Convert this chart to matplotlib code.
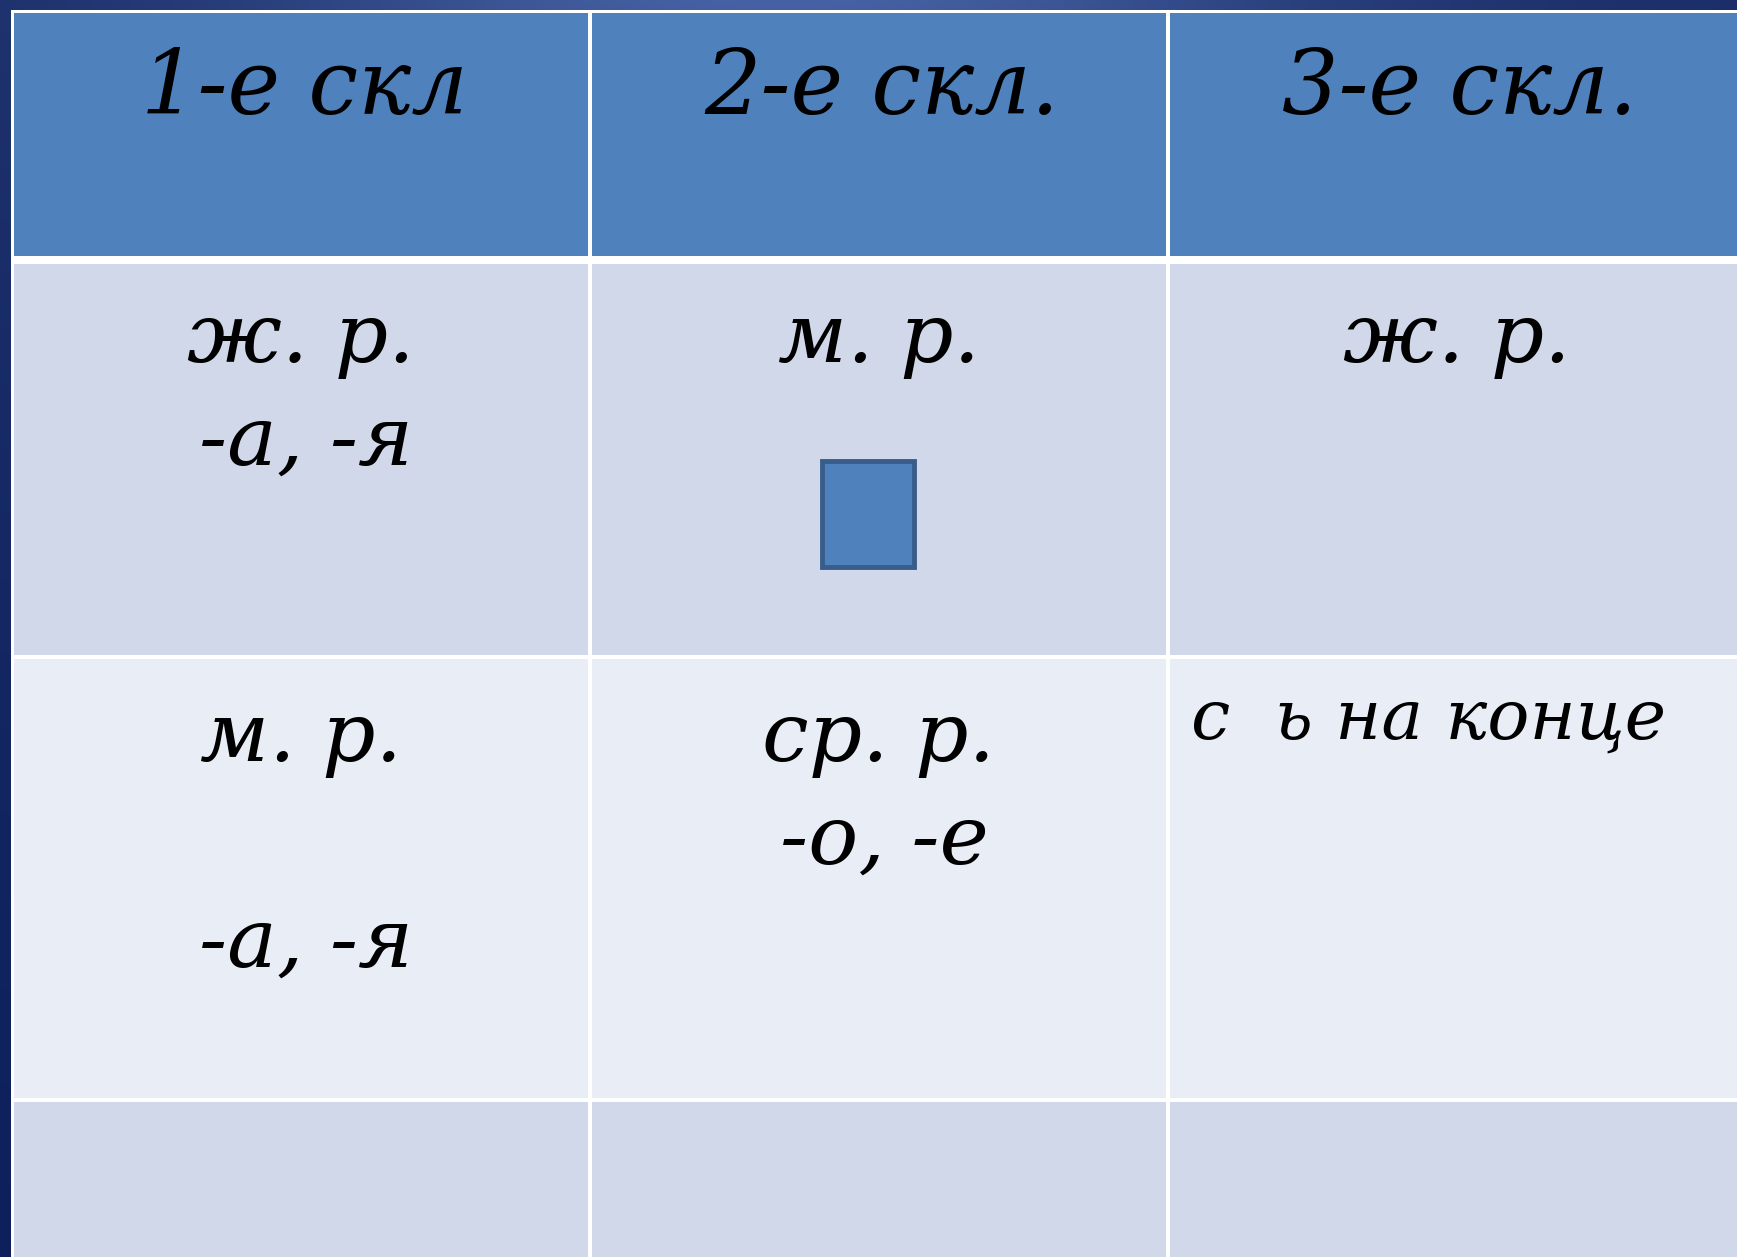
import matplotlib
matplotlib.use("Agg")
import matplotlib.pyplot as plt
import numpy as np
from matplotlib.patches import Rectangle

# table content
headers = ["1-е скл", "2-е скл.", "3-е скл."]
row1 = [["ж. р.", "-а, -я"], ["м. р."], ["ж. р."]]
row2 = [["м. р.", "", "-а, -я"], ["ср. р.", "-о, -е"], []]
note = "с  ь на конце"

W, H = 1737, 1257
col_edges = [12, 590, 1168, 1746]
row_edges = [11, 260, 657, 1100, 1300]
row_colors = ["#4F81BD", "#D0D8E9", "#E9EDF5", "#D0D8E9"]

fig = plt.figure(figsize=(W / 100, H / 100), dpi=100)
ax = fig.add_axes([0, 0, 1, 1])
ax.set_xlim(0, W)
ax.set_ylim(H, 0)
ax.axis("off")

# dark slide background with a soft gradient
xs = np.linspace(0, 1, 400)
ys = np.linspace(0, 1, 300)
gx = np.exp(-((xs - 0.45) / 0.3) ** 2)
c_dark = np.array([0x1A, 0x2D, 0x68]) / 255
c_light = np.array([0x46, 0x62, 0xA4]) / 255
bg = c_dark[None, None, :] + (c_light - c_dark)[None, None, :] * gx[None, :, None] * (1 - ys[:, None, None]) ** 3
bg = np.clip(bg - 0.05 * ys[:, None, None], 0, 1)
ax.imshow(bg, extent=[0, W, H, 0], aspect="auto", zorder=0)

# white table body (gaps become grid lines)
ax.add_patch(Rectangle((col_edges[0] - 1, row_edges[0] - 1), col_edges[-1] - col_edges[0] + 2,
                       H, facecolor="white", edgecolor="none", zorder=1))

gap = 1.6
for r in range(len(row_edges) - 1):
    top = row_edges[r] + gap
    bot = row_edges[r + 1] - gap
    if r == 0:
        bot -= 2.5
    if r == 1:
        top += 2.5
    for c in range(len(col_edges) - 1):
        left = col_edges[c] + gap
        right = col_edges[c + 1] - gap
        ax.add_patch(Rectangle((left, top), right - left, bot - top,
                               facecolor=row_colors[r], edgecolor="none", zorder=2))

font = dict(family="DejaVu Serif", style="italic", color="black", zorder=5)
centers = [(col_edges[i] + col_edges[i + 1]) / 2 for i in range(3)]

for c, h in enumerate(headers):
    ax.text(centers[c] + 3, 114, h, ha="center", va="baseline", fontsize=64, **font)

line_gap = 103
for c, lines in enumerate(row1):
    for i, s in enumerate(lines):
        ax.text(centers[c] + (5 if i else 0), 362 + i * line_gap, s, ha="center", va="baseline",
                fontsize=60, **font)

line_gap2 = [0, 103, 206]
for c, lines in enumerate(row2):
    for i, s in enumerate(lines):
        ax.text(centers[c] + (5 if i else 0), 761 + line_gap2[i], s, ha="center", va="baseline",
                fontsize=60, **font)

ax.text(1191, 739, note, ha="left", va="baseline", fontsize=50.5, **font)

# placeholder square in the 2nd declension cell
ax.add_patch(Rectangle((822, 461), 92, 106, facecolor="#4F81BD", edgecolor="#385D8A",
                       linewidth=3.5, zorder=4))

fig.savefig("out.png", dpi=100)
